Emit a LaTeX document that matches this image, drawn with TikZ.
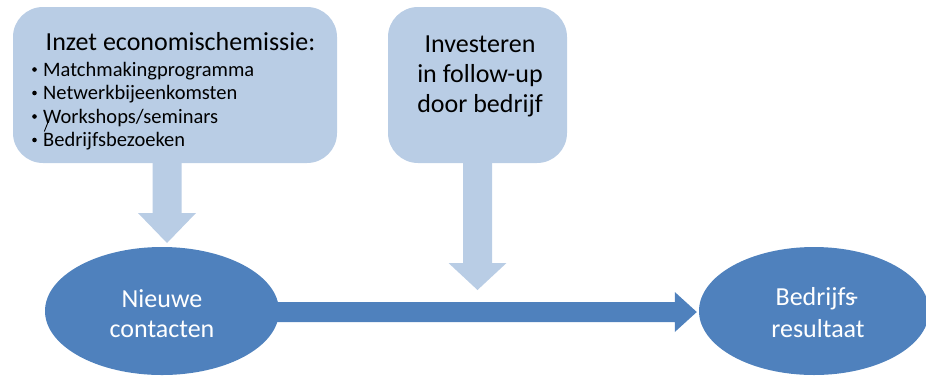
\documentclass[tikz,border=0pt]{standalone}
\usepackage{fontspec}
\setmainfont{Carlito}
\usetikzlibrary{calc,shapes.geometric}
\definecolor{lightb}{HTML}{B9CDE5}
\definecolor{darkb}{HTML}{4F81BD}
\tikzset{
  boxshape/.style={fill=lightb, draw=none, rounded corners=30pt, inner sep=0pt},
  ellshape/.style={fill=darkb, draw=none, ellipse, inner sep=0pt},
  bigtext/.style={font=\fontsize{26}{30}\selectfont, inner sep=0pt, anchor=base},
  whitetext/.style={bigtext, text=white},
  itemtext/.style={font=\fontsize{20.5}{24}\selectfont, inner sep=0pt, anchor=base west},
  bulletdot/.style={circle, fill=black, inner sep=0pt, minimum size=4.6pt},
}
\begin{document}
\begin{tikzpicture}[x=1pt,y=-1pt]
\useasboundingbox (0,0) rectangle (926,376);
\clip (0,0) rectangle (926,376);
% shape positions (unfilled, for anchors)
\node[boxshape, fill=none, minimum width=324pt, minimum height=156pt] (box1) at (175,85) {};
\node[boxshape, fill=none, minimum width=179pt, minimum height=156pt] (box2) at (477.5,85) {};
\node[ellshape, fill=none, minimum width=234pt, minimum height=128pt] (ell1) at (162,311) {};
\node[ellshape, fill=none, minimum width=230pt, minimum height=128pt] (ell2) at (814,311) {};
\coordinate (a1top) at (box1.south -| 167,0);
\coordinate (a1tip) at (167,243);
\coordinate (a2top) at (box2.south);
\coordinate (a2tip) at (477.5,290);
\coordinate (a3start) at (ell1.center);
\coordinate (a3tip) at (ell2.west);
% block arrows
\fill[lightb] ($(a1top)+(-14.5,-2)$) -- ($(a1top)+(14.5,-2)$) -- ($(a1tip)+(14.5,-30)$) -- ($(a1tip)+(29,-30)$)
  -- (a1tip) -- ($(a1tip)+(-29,-30)$) -- ($(a1tip)+(-14.5,-30)$) -- cycle;
\fill[lightb] ($(a2top)+(-14.5,-2)$) -- ($(a2top)+(14.5,-2)$) -- ($(a2tip)+(14.5,-27)$) -- ($(a2tip)+(29,-27)$)
  -- (a2tip) -- ($(a2tip)+(-29,-27)$) -- ($(a2tip)+(-14.5,-27)$) -- cycle;
\fill[darkb] ($(a3start)+(0,-9)$) -- ($(a3tip)+(-24,-9)$) -- ($(a3tip)+(-24,-19)$) -- ($(a3tip)+(-2,1)$)
  -- ($(a3tip)+(-24,21)$) -- ($(a3tip)+(-24,11)$) -- ($(a3start)+(0,11)$) -- cycle;
% filled shapes on top of arrow ends
\node[boxshape, minimum width=324pt, minimum height=156pt] (box1f) at (box1) {};
\node[boxshape, minimum width=179pt, minimum height=156pt] (box2f) at (box2) {};
\node[ellshape, minimum width=234pt, minimum height=128pt] (ell1f) at (ell1) {};
\node[ellshape, minimum width=230pt, minimum height=128pt] (ell2f) at (ell2) {};
% box1 text
\node[bigtext] (t1) at (180.5,50) {Inzet economischemissie:};
\node[itemtext] (i1) at (43,76) {Matchmakingprogramma};
\node[itemtext] (i2) at (43,99.5) {Netwerkbijeenkomsten};
\node[itemtext] (i3) at (43,123) {Workshops/seminars};
\node[itemtext] (i4) at (43,146.5) {Bedrijfsbezoeken};
\foreach \yy/\nm in {69.5/b1,93/b2,116.5/b3,140/b4} \node[bulletdot] (\nm) at (34.5,\yy) {};
\draw[line width=0.9pt] (44.3,131.5) -- (48.3,121.5);
% box2 text
\node[bigtext] (t2a) at (480,52) {Investeren};
\node[bigtext] (t2b) at (480,82) {in follow-up};
\node[bigtext] (t2c) at (480,112) {door bedrijf};
% ellipse texts
\node[whitetext] (e1a) at (162,307) {Nieuwe};
\node[whitetext] (e1b) at (162,337) {contacten};
\node[whitetext] (e2a) at (817,305) {Bedrijfs\kern-5pt-};
\node[whitetext] (e2b) at (818,337) {resultaat};
\end{tikzpicture}
\end{document}
